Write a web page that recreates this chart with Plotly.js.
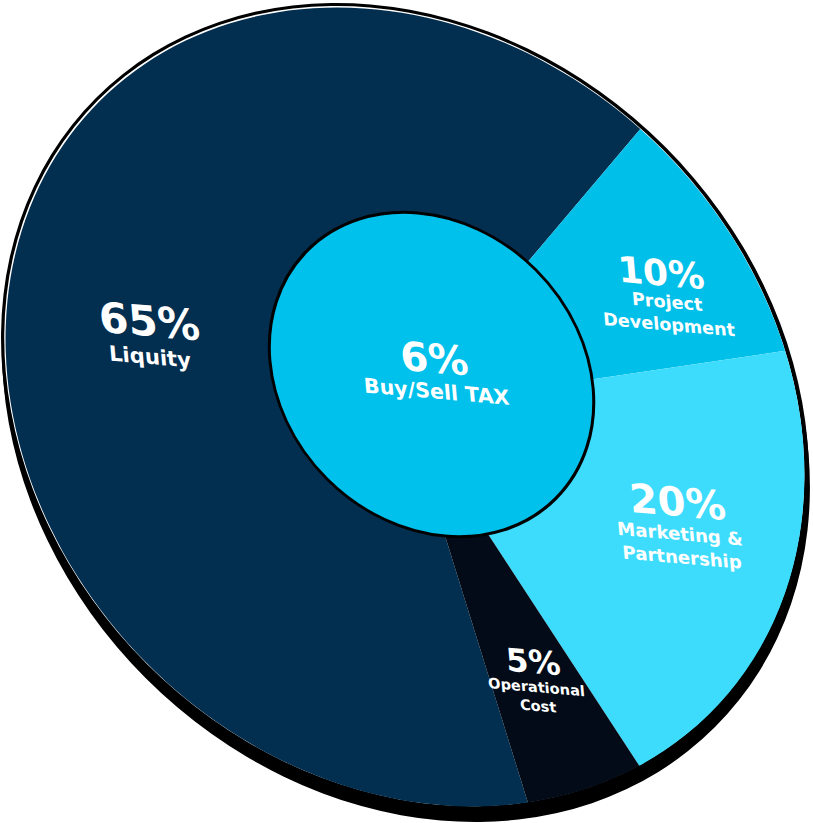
<!DOCTYPE html>
<html><head><meta charset="utf-8">
<script src="https://cdn.plot.ly/plotly-3.0.1.min.js"></script>
<style>
html,body{margin:0;padding:0;background:#fff;overflow:hidden;width:813px;height:823px;}
#chart{position:absolute;left:-93.5px;top:-88.5px;width:1000px;height:1000px;transform-origin:50% 50%;}
</style></head><body><div id="chart"></div>
<script>
// ---- data ----
const categories = ['Liquity', 'Project Development', 'Marketing & Partnership', 'Operational Cost'];
const shares = [65, 10, 20, 5];
const sliceColors = ['#022e4f', '#00bfe9', '#3ddcfd', '#020b17'];
const valueLabels = ['65%', '10%', '20%', '5%'];
const nameLabels = ['Liquity', 'Project<br>Development', 'Marketing &<br>Partnership', 'Operational<br>Cost'];
const taxName = ['Buy/Sell TAX'];
const taxValue = [6];
const taxText = '6%';

// ---- view (tilted disc) ----
const p = 1.00375, q = 0.08625, det = p * p - q * q;
function toDiv(fx, fy) { const dx = fx - 406.5, dy = fy - 411.5; return [500 + (p * dx - q * dy) / det, 500 + (-q * dx + p * dy) / det]; }
function paperPt(fx, fy) { const d = toDiv(fx, fy); return [d[0] / 1000, 1 - d[1] / 1000]; }
function domDiv(cx, cy, r) { return {x: [(cx - r) / 1000, (cx + r) / 1000], y: [1 - (cy + r) / 1000, 1 - (cy - r) / 1000]}; }
const total = [shares.reduce((a, b) => a + b, 0)];

const mainC = toDiv(404.5, 406.5);
const whiteC = toDiv(403.8, 405.6);
const innerC = toDiv(431, 374);

function disc(center, r, color) {
  return {type: 'pie', values: total, labels: ['rim'], sort: false, textinfo: 'none', hoverinfo: 'skip',
    marker: {colors: [color], line: {width: 0}}, domain: domDiv(center[0], center[1], r), showlegend: false};
}

const traces = [
  disc(mainC, 401, '#000000'),
  disc([mainC[0], mainC[1] + 11], 401, '#000000'),
  disc(whiteC, 397.1, '#ffffff'),
  {type: 'pie', labels: categories, values: shares, sort: false, direction: 'clockwise', rotation: 167,
   textinfo: 'none', hoverinfo: 'skip', marker: {colors: sliceColors, line: {width: 0}},
   domain: domDiv(mainC[0], mainC[1], 396.5), showlegend: false},
  {type: 'pie', labels: taxName, values: taxValue, sort: false, textinfo: 'none', hoverinfo: 'skip',
   marker: {colors: ['#00c1eb'], line: {color: '#000000', width: 3}},
   domain: domDiv(innerC[0], innerC[1], 161), showlegend: false}
];

// label placement (screen positions of the tilted view)
const numPos = [[149, 321], [661, 272], [677, 501], [533, 661]];
const numSize = [42, 36, 40, 32];
const namePos = [[150, 357], [668, 313], [681, 545], [537, 696]];
const nameSize = [21, 17.5, 18, 14.5];

const F = 'DejaVu Sans';
const annotations = [];
categories.forEach((c, i) => {
  const a = paperPt(numPos[i][0], numPos[i][1]);
  annotations.push({xref: 'paper', yref: 'paper', x: a[0], y: a[1], text: valueLabels[i], showarrow: false,
    xanchor: 'center', yanchor: 'middle', font: {family: F, size: numSize[i], color: '#ffffff', weight: 700}});
  const b = paperPt(namePos[i][0], namePos[i][1]);
  annotations.push({xref: 'paper', yref: 'paper', x: b[0], y: b[1], text: nameLabels[i], showarrow: false,
    xanchor: 'center', yanchor: 'middle', font: {family: F, size: nameSize[i], color: '#ffffff', weight: 700}});
});
const t1 = paperPt(434, 358), t2 = paperPt(436, 391);
annotations.push({xref: 'paper', yref: 'paper', x: t1[0], y: t1[1], text: taxText, showarrow: false,
  xanchor: 'center', yanchor: 'middle', font: {family: F, size: 40, color: '#ffffff', weight: 700}});
annotations.push({xref: 'paper', yref: 'paper', x: t2[0], y: t2[1], text: taxName[0], showarrow: false,
  xanchor: 'center', yanchor: 'middle', font: {family: F, size: 20.5, color: '#ffffff', weight: 700}});

const layout = {width: 1000, height: 1000, margin: {l: 0, r: 0, t: 0, b: 0},
  paper_bgcolor: 'rgba(0,0,0,0)', plot_bgcolor: 'rgba(0,0,0,0)', showlegend: false, annotations: annotations};

const el = document.getElementById('chart');
el.style.transform = `matrix(${p},${q},${q},${p},0,0)`;
Plotly.newPlot(el, traces, layout, {staticPlot: true, displayModeBar: false});
</script></body></html>
